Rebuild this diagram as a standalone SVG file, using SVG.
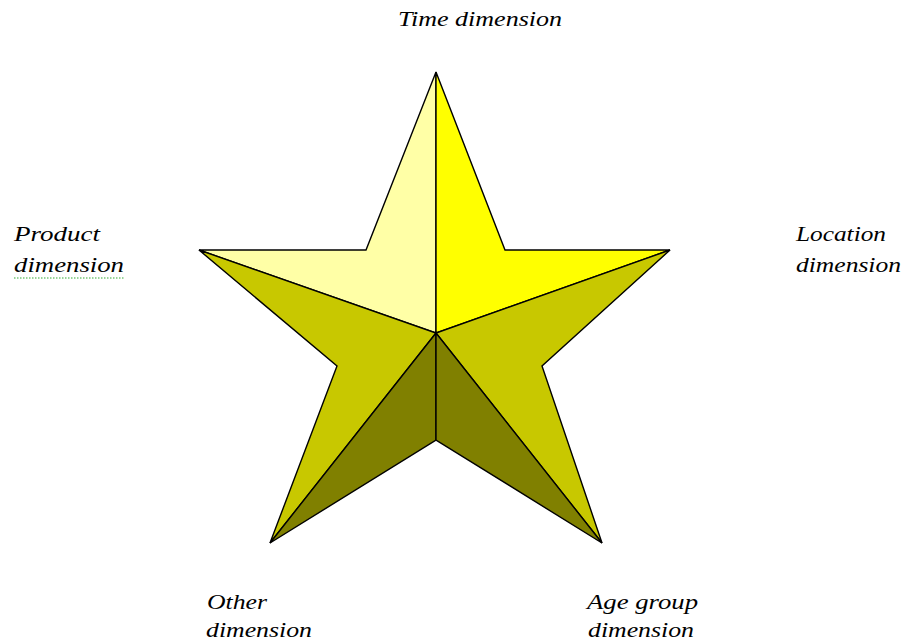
<svg xmlns="http://www.w3.org/2000/svg" width="904" height="643" viewBox="0 0 904 643">
<style>
.face{stroke:#000;stroke-width:1.4;stroke-linejoin:miter}
.lbl{font-family:"Liberation Serif","DejaVu Serif",serif;font-style:italic;font-size:22px;fill:#000}
</style>
<rect width="904" height="643" fill="#fff"/>
<g id="star">
<polygon class="face" fill="#FFFFA6" points="436,72 366,250 199,250 436,333"/>
<polygon class="face" fill="#FFFF00" points="436,72 436,333 670,250 505,250"/>
<polygon class="face" fill="#C8C800" points="199,250 436,333 270,543 337,366"/>
<polygon class="face" fill="#C8C800" points="670,250 436,333 602,543 542,366"/>
<polygon class="face" fill="#808000" points="436,333 270,543 436,440"/>
<polygon class="face" fill="#808000" points="436,333 436,440 602,543"/>
</g>
<g id="labels">
<text class="lbl" x="398" y="26" textLength="164" lengthAdjust="spacingAndGlyphs">Time dimension</text>
<text class="lbl" x="14" y="241" textLength="86" lengthAdjust="spacingAndGlyphs">Product</text>
<text class="lbl" x="14" y="272" textLength="110" lengthAdjust="spacingAndGlyphs">dimension</text>
<line x1="14" y1="278" x2="124" y2="278" stroke="#3a3" stroke-width="1.2" stroke-dasharray="1.5,1.5"/>
<text class="lbl" x="796" y="241" textLength="90" lengthAdjust="spacingAndGlyphs">Location</text>
<text class="lbl" x="796" y="272" textLength="105" lengthAdjust="spacingAndGlyphs">dimension</text>
<text class="lbl" x="207" y="609" textLength="60" lengthAdjust="spacingAndGlyphs">Other</text>
<text class="lbl" x="206" y="637" textLength="106" lengthAdjust="spacingAndGlyphs">dimension</text>
<text class="lbl" x="587" y="609" textLength="111" lengthAdjust="spacingAndGlyphs">Age group</text>
<text class="lbl" x="588" y="637" textLength="106" lengthAdjust="spacingAndGlyphs">dimension</text>
</g>
</svg>
